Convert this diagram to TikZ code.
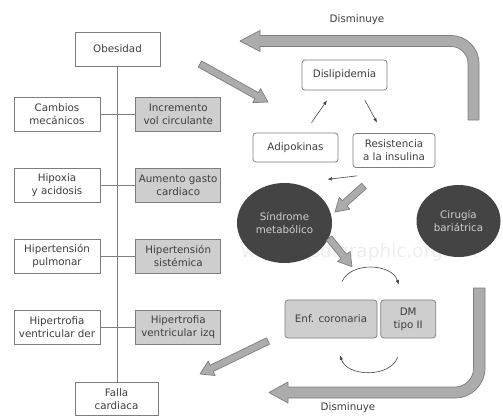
\documentclass[tikz,border=0pt]{standalone}
\usepackage{fontspec}
\setmainfont{DejaVu Sans}
\definecolor{mygray}{RGB}{125,125,125}
\definecolor{myfill}{RGB}{206,206,206}
\definecolor{mydark}{RGB}{68,68,68}
\definecolor{myarrow}{RGB}{172,172,172}
\definecolor{mytext}{RGB}{62,62,62}
\usetikzlibrary{arrows.meta,positioning,calc,shapes.geometric}

% straight hollow arrow from #1 to #2
\newcommand{\thickarrow}[2]{%
  \coordinate (ta-b) at ($(#2)!13pt!(#1)$);
  \filldraw[bigarrow] ($(#1)!3.5pt!90:(#2)$) -- ($(ta-b)!3.5pt!-90:(#1)$)
    -- ($(ta-b)!8pt!-90:(#1)$) -- (#2) -- ($(ta-b)!8pt!90:(#1)$)
    -- ($(ta-b)!3.5pt!90:(#1)$) -- ($(#1)!3.5pt!-90:(#2)$) -- cycle;}

\begin{document}
\begin{tikzpicture}[x=1pt,y=-1pt,
    every node/.style={font=\fontsize{10.3}{13}\selectfont, text=mytext, align=center, inner sep=1pt},
    plainbox/.style={draw=mygray, line width=0.7pt, minimum width=86pt, minimum height=34pt},
    graybox/.style={plainbox, fill=myfill},
    roundbox/.style={draw=mygray, line width=0.7pt, rounded corners=3pt},
    darkcirc/.style={ellipse, fill=mydark, text=myfill},
    bigarrow/.style={fill=myarrow, draw=mygray, line width=0.7pt, line join=round},
    smallarrow/.style={draw=mydark, line width=0.6pt, -{Latex[length=4.5pt,width=3.5pt]}},
    node distance=36.5pt
    ]
    \useasboundingbox[fill=white] (0,0) rectangle (503,416);

    \node[anchor=west, text=gray!13, font=\fontsize{18.5}{19}\selectfont] (wm) at (240,252) {www.medigraphic.org.mx};

    % left column
    \node (obes) [plainbox, minimum width=85pt] at (117.5,49) {Obesidad};
    \node (l1) [plainbox] at (57,114) {Cambios\\mecánicos};
    \node (l2) [plainbox, below=of l1] {Hipoxia\\y acidosis};
    \node (l3) [plainbox, below=of l2] {Hipertensión\\pulmonar};
    \node (l4) [plainbox, below=of l3] {Hipertrofia\\ventricular der};
    \node (r1) [graybox, minimum width=85pt, right=35pt of l1] {Incremento\\vol circulante};
    \node (r2) [graybox, minimum width=85pt, right=35pt of l2] {Aumento gasto\\cardiaco};
    \node (r3) [graybox, minimum width=85pt, right=35pt of l3] {Hipertensión\\sistémica};
    \node (r4) [graybox, minimum width=85pt, right=35pt of l4] {Hipertrofia\\ventricular izq};
    \node (falla) [plainbox, minimum width=83pt, minimum height=33pt] at (116.5,399) {Falla\\cardiaca};

    % right part
    \node (dis) [roundbox, minimum width=85pt, minimum height=30pt] at (344.5,75) {Dislipidemia};
    \node (adip) [roundbox, minimum width=85pt, minimum height=29pt] at (295.5,147.5) {Adipokinas};
    \node (res) [roundbox, minimum width=82pt, minimum height=34pt] at (394,150.5) {Resistencia\\a la insulina};
    \node (sin) [darkcirc, minimum width=95pt, minimum height=80pt] at (284.5,223) {Síndrome\\metabólico};
    \node (cir) [darkcirc, minimum width=84pt, minimum height=72pt] at (458.5,221) {Cirugía\\bariátrica};
    \node (enf) [roundbox, fill=myfill, minimum width=92pt, minimum height=38pt] at (331,319) {Enf. coronaria};
    \node (dm) [roundbox, fill=myfill, minimum width=55pt, minimum height=38pt, right=3pt of enf] {DM\\tipo II};
    \node (dtop) at (357,20) {Disminuye};
    \node (dbot) at (348,408) {Disminuye};

    % the edges
    \draw[mygray, line width=0.7pt] (obes.south) -- (obes.south |- falla.north);
    \foreach \i in {1,...,4}
      \draw[mygray, line width=0.7pt] (l\i.east) -- (r\i.west);

    \draw[smallarrow] ($(adip.north)+(16,-10)$) -- ($(dis.south)+(-17.5,10)$);
    \draw[smallarrow] ($(dis.south)+(20.5,10)$) -- ($(res.north)+(-17,-10.5)$);
    \draw[smallarrow] ($(res.south)+(-37,8)$) -- ($(adip.south)+(32,17)$);
    \draw[smallarrow] ($(enf.north)+(11,-18)$) to[bend left=70] ($(dm.north)+(-9.5,-15)$);
    \draw[smallarrow] ($(dm.south)+(-10.5,19)$) to[bend left=70] ($(enf.south)+(9,17)$);

    % thick arrows
    \coordinate (o1) at (200,64);
    \coordinate (o2) at (268,102);
    \coordinate (s1) at ($(res.south)+(-30,18)$);
    \coordinate (s2) at (335,212);
    \coordinate (e1) at (329,238);
    \coordinate (e2) at ($(enf.north)+(21,-33)$);
    \coordinate (f1) at (268,341);
    \coordinate (f2) at (200,374);
    \thickarrow{o1}{o2}
    \thickarrow{s1}{s2}
    \thickarrow{e1}{e2}
    \thickarrow{f1}{f2}

    % bent arrows from cirugia
    \filldraw[bigarrow] (479,120) -- (479,63.5) .. controls (479,48) and (466.5,35.5) .. (451,35.5)
      -- (260,35.5) -- (260,30.5) -- (240,41) -- (260,51.5) -- (260,46.5) -- (451,46.5)
      .. controls (460.4,46.5) and (468,54.1) .. (468,63.5) -- (468,120) -- cycle;
    \filldraw[bigarrow] (473.5,288) -- (485,288) -- (485,368) .. controls (485,384.6) and (471.6,398) .. (455,398)
      -- (288,398) -- (288,403) -- (269,392.5) -- (288,382) -- (288,387) -- (455,387)
      .. controls (465.2,387) and (473.5,378.7) .. (473.5,368.5) -- cycle;
\end{tikzpicture}
\end{document}
